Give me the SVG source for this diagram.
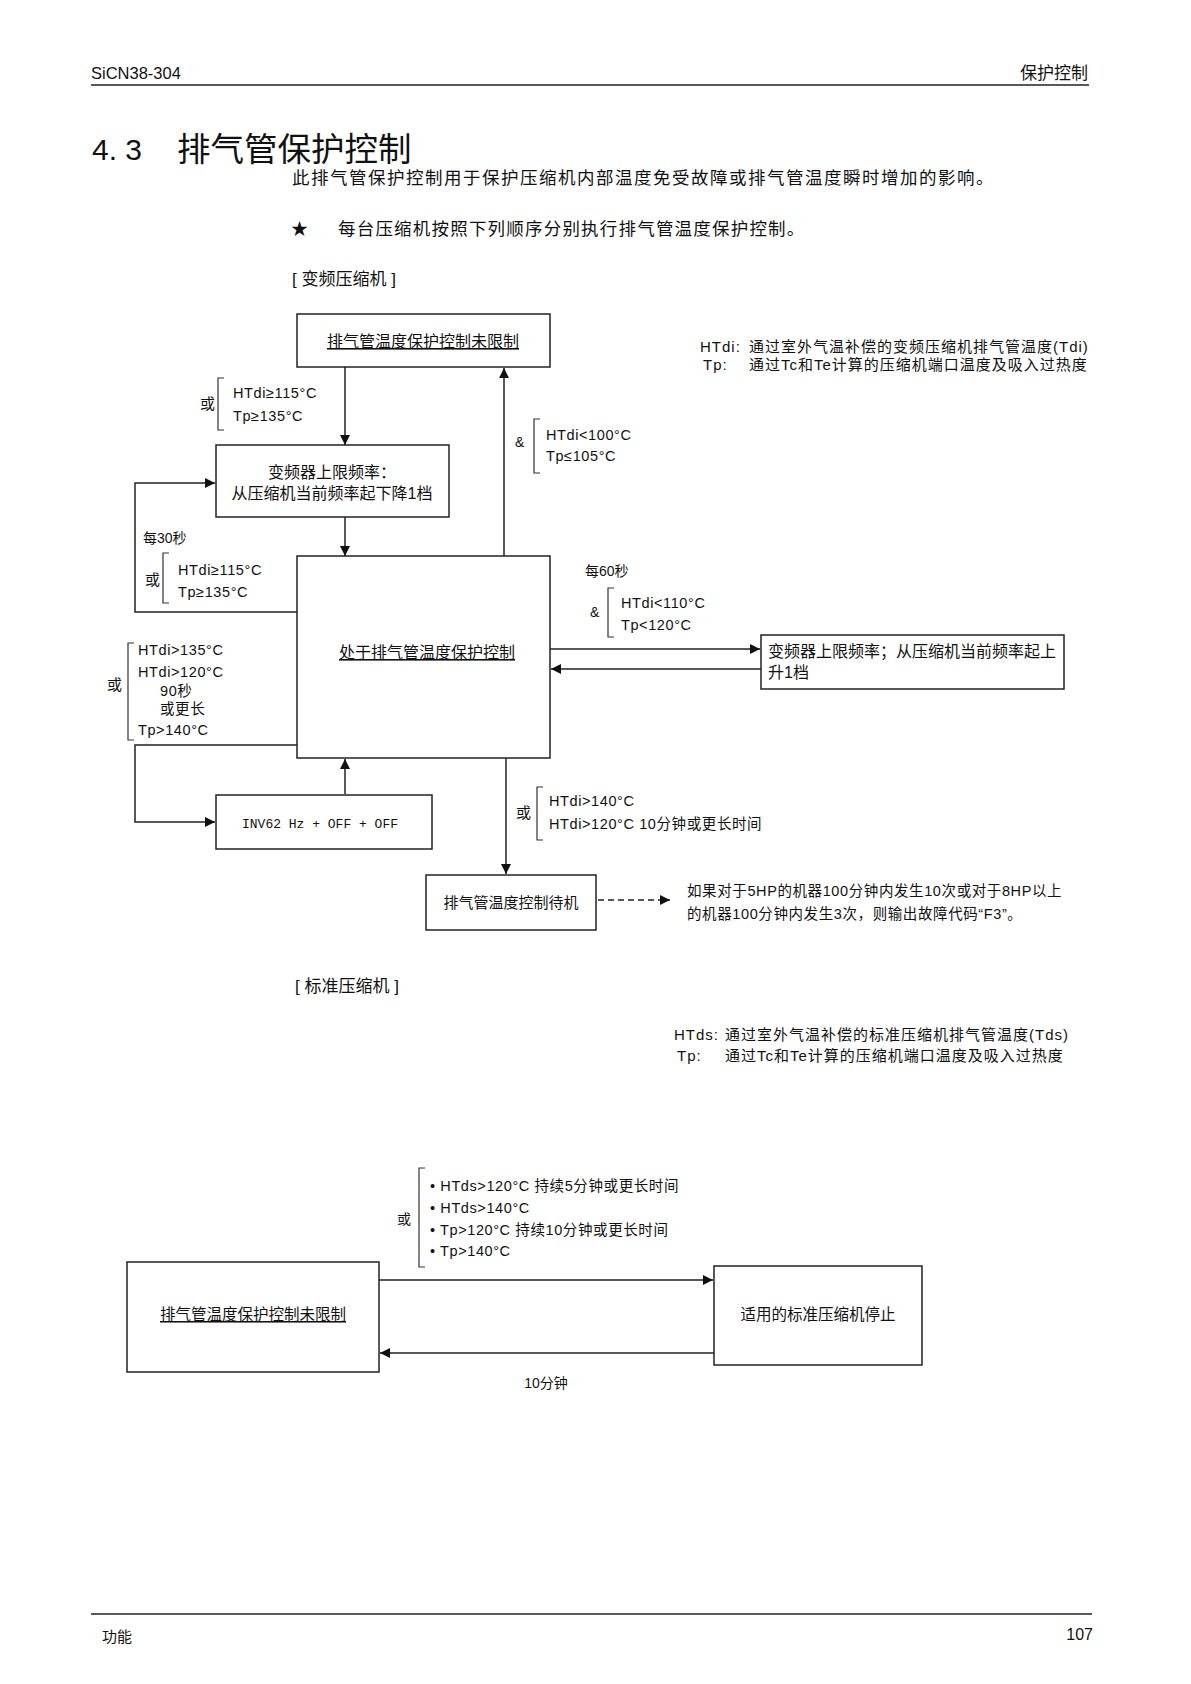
<svg xmlns="http://www.w3.org/2000/svg" width="1191" height="1684" viewBox="0 0 1191 1684">
<defs>
<marker id="ah" viewBox="0 0 10 10" refX="10" refY="5" markerWidth="11" markerHeight="10" markerUnits="userSpaceOnUse" orient="auto"><path d="M0,0 L10,5 L0,10 z" fill="#111"/></marker>
</defs>
<style>
text{font-family:"Liberation Sans","Noto Sans CJK SC",sans-serif;fill:#111;}
.box{fill:#fff;stroke:#222;stroke-width:1.5;}
.con{fill:none;stroke:#222;stroke-width:1.5;}
.dash{stroke-dasharray:6,4;}
.brk{fill:none;stroke:#333;stroke-width:1.2;}
.lbl{font-size:16px;}
.cond{font-size:14.5px;letter-spacing:0.6px;}
.leg{font-size:15px;letter-spacing:1px;}
.mid{text-anchor:middle;}
.ul{text-decoration:underline;}
</style>
<rect width="1191" height="1684" fill="#fff"/>

<g id="header">
<text x="91" y="79" font-size="16.5">SiCN38-304</text>
<text x="1088" y="79" font-size="17" text-anchor="end">保护控制</text>
<line x1="91" y1="85" x2="1089" y2="85" stroke="#222" stroke-width="1.6"/>
</g>

<g id="title">
<text x="92" y="160" font-size="30">4. 3</text>
<text x="177" y="161" font-size="33.5">排气管保护控制</text>
<text x="292" y="184" font-size="17.5" letter-spacing="1.5">此排气管保护控制用于保护压缩机内部温度免受故障或排气管温度瞬时增加的影响。</text>
<text x="291" y="235" font-size="17">★</text>
<text x="338" y="235" font-size="17.5" letter-spacing="1.2">每台压缩机按照下列顺序分别执行排气管温度保护控制。</text>
<text x="292" y="285" font-size="17">[ 变频压缩机 ]</text>
</g>

<g id="legend-inv">
<text class="leg" x="700" y="352">HTdi:</text>
<text class="leg" x="749" y="352">通过室外气温补偿的变频压缩机排气管温度(Tdi)</text>
<text class="leg" x="703" y="370">Tp:</text>
<text class="leg" x="749" y="370">通过Tc和Te计算的压缩机端口温度及吸入过热度</text>
</g>

<g id="connectors">
<line class="con" x1="345" y1="367" x2="345" y2="445" marker-end="url(#ah)"/>
<line class="con" x1="345" y1="517" x2="345" y2="556" marker-end="url(#ah)"/>
<line class="con" x1="504" y1="556" x2="504" y2="368" marker-end="url(#ah)"/>
<polyline class="con" points="297,612 135,612 135,483 215,483" marker-end="url(#ah)"/>
<line class="con" x1="550" y1="649" x2="760" y2="649" marker-end="url(#ah)"/>
<line class="con" x1="761" y1="669" x2="551" y2="669" marker-end="url(#ah)"/>
<polyline class="con" points="297,745 135,745 135,822 215,822" marker-end="url(#ah)"/>
<line class="con" x1="345" y1="794" x2="345" y2="759" marker-end="url(#ah)"/>
<line class="con" x1="506" y1="758" x2="506" y2="874" marker-end="url(#ah)"/>
<line class="con dash" x1="598" y1="900" x2="670" y2="900" marker-end="url(#ah)"/>
<line class="con" x1="379" y1="1280" x2="713" y2="1280" marker-end="url(#ah)"/>
<line class="con" x1="714" y1="1353" x2="380" y2="1353" marker-end="url(#ah)"/>
</g>

<g id="cond-1">
<text x="200" y="409" font-size="15">或</text>
<path class="brk" d="M224,378 H218 V430 H224"/>
<text class="cond" x="233" y="398">HTdi≥115°C</text>
<text class="cond" x="233" y="421">Tp≥135°C</text>
</g>

<g id="cond-2">
<text x="515" y="447" font-size="14">&amp;</text>
<path class="brk" d="M540,419 H534 V473 H540"/>
<text class="cond" x="546" y="440">HTdi&lt;100°C</text>
<text class="cond" x="546" y="461">Tp≤105°C</text>
</g>

<g id="cond-3">
<text x="143" y="543" font-size="14">每30秒</text>
<text x="145" y="585" font-size="15">或</text>
<path class="brk" d="M169,553 H163 V603 H169"/>
<text class="cond" x="178" y="575">HTdi≥115°C</text>
<text class="cond" x="178" y="597">Tp≥135°C</text>
</g>

<g id="cond-4">
<text x="585" y="576" font-size="14">每60秒</text>
<text x="590" y="617" font-size="14">&amp;</text>
<path class="brk" d="M614,588 H608 V637 H614"/>
<text class="cond" x="621" y="608">HTdi&lt;110°C</text>
<text class="cond" x="621" y="630">Tp&lt;120°C</text>
</g>

<g id="cond-5">
<text x="107" y="690" font-size="15">或</text>
<path class="brk" d="M134,643 H128 V740 H134"/>
<text class="cond" x="138" y="655">HTdi&gt;135°C</text>
<text class="cond" x="138" y="677">HTdi&gt;120°C</text>
<text class="cond" x="160" y="696">90秒</text>
<text class="cond" x="160" y="714">或更长</text>
<text class="cond" x="138" y="735">Tp&gt;140°C</text>
</g>

<g id="cond-6">
<text x="516" y="818" font-size="15">或</text>
<path class="brk" d="M543,787 H537 V840 H543"/>
<text class="cond" x="549" y="806">HTdi&gt;140°C</text>
<text class="cond" x="549" y="829">HTdi&gt;120°C 10分钟或更长时间</text>
</g>

<g id="node-unlimited">
<rect class="box" x="297" y="314" width="253" height="53"/>
<text class="lbl mid ul" x="423" y="347">排气管温度保护控制未限制</text>
</g>

<g id="node-down">
<rect class="box" x="216" y="445" width="233" height="72"/>
<text class="lbl mid" x="332" y="478">变频器上限频率：</text>
<text class="lbl mid" x="332" y="499">从压缩机当前频率起下降1档</text>
</g>

<g id="node-protect">
<rect class="box" x="297" y="556" width="253" height="202"/>
<text class="lbl mid ul" x="427" y="658">处于排气管温度保护控制</text>
</g>

<g id="node-up">
<rect class="box" x="761" y="635" width="303" height="54"/>
<text class="lbl" x="768" y="657">变频器上限频率；从压缩机当前频率起上</text>
<text class="lbl" x="768" y="678">升1档</text>
</g>

<g id="node-inv">
<rect class="box" x="216" y="795" width="216" height="54"/>
<text x="320" y="828" font-size="13" class="mid" style="font-family:'Liberation Mono','DejaVu Sans Mono',monospace">INV62 Hz + OFF + OFF</text>
</g>

<g id="node-standby">
<rect class="box" x="426" y="875" width="170" height="55"/>
<text class="mid" x="511" y="908" font-size="15">排气管温度控制待机</text>
</g>

<g id="note-f3">
<text x="687" y="896" font-size="14.5" letter-spacing="0.6">如果对于5HP的机器100分钟内发生10次或对于8HP以上</text>
<text x="687" y="919" font-size="14.5" letter-spacing="0.6">的机器100分钟内发生3次，则输出故障代码“F3”。</text>
</g>

<g id="section-std">
<text x="295" y="992" font-size="17">[ 标准压缩机 ]</text>
</g>

<g id="legend-std">
<text class="leg" x="674" y="1040">HTds:</text>
<text class="leg" x="725" y="1040">通过室外气温补偿的标准压缩机排气管温度(Tds)</text>
<text class="leg" x="677" y="1061">Tp:</text>
<text class="leg" x="725" y="1061">通过Tc和Te计算的压缩机端口温度及吸入过热度</text>
</g>

<g id="cond-std">
<text x="397" y="1224" font-size="14">或</text>
<path class="brk" d="M425,1168 H419 V1267 H425"/>
<text class="cond" x="430" y="1191">• HTds&gt;120°C 持续5分钟或更长时间</text>
<text class="cond" x="430" y="1213">• HTds&gt;140°C</text>
<text class="cond" x="430" y="1235">• Tp&gt;120°C 持续10分钟或更长时间</text>
<text class="cond" x="430" y="1256">• Tp&gt;140°C</text>
</g>

<g id="node-std-unlimited">
<rect class="box" x="127" y="1262" width="252" height="110"/>
<text class="mid ul" x="253" y="1320" font-size="15.5">排气管温度保护控制未限制</text>
</g>

<g id="node-std-stop">
<rect class="box" x="714" y="1266" width="208" height="99"/>
<text class="mid" x="818" y="1320" font-size="15.5">适用的标准压缩机停止</text>
</g>

<g id="label-10min">
<text class="mid" x="546" y="1388" font-size="14">10分钟</text>
</g>

<g id="footer">
<line x1="91" y1="1614" x2="1092" y2="1614" stroke="#222" stroke-width="1.6"/>
<text x="102" y="1642" font-size="15">功能</text>
<text x="1093" y="1640" font-size="16" text-anchor="end">107</text>
</g>
</svg>
